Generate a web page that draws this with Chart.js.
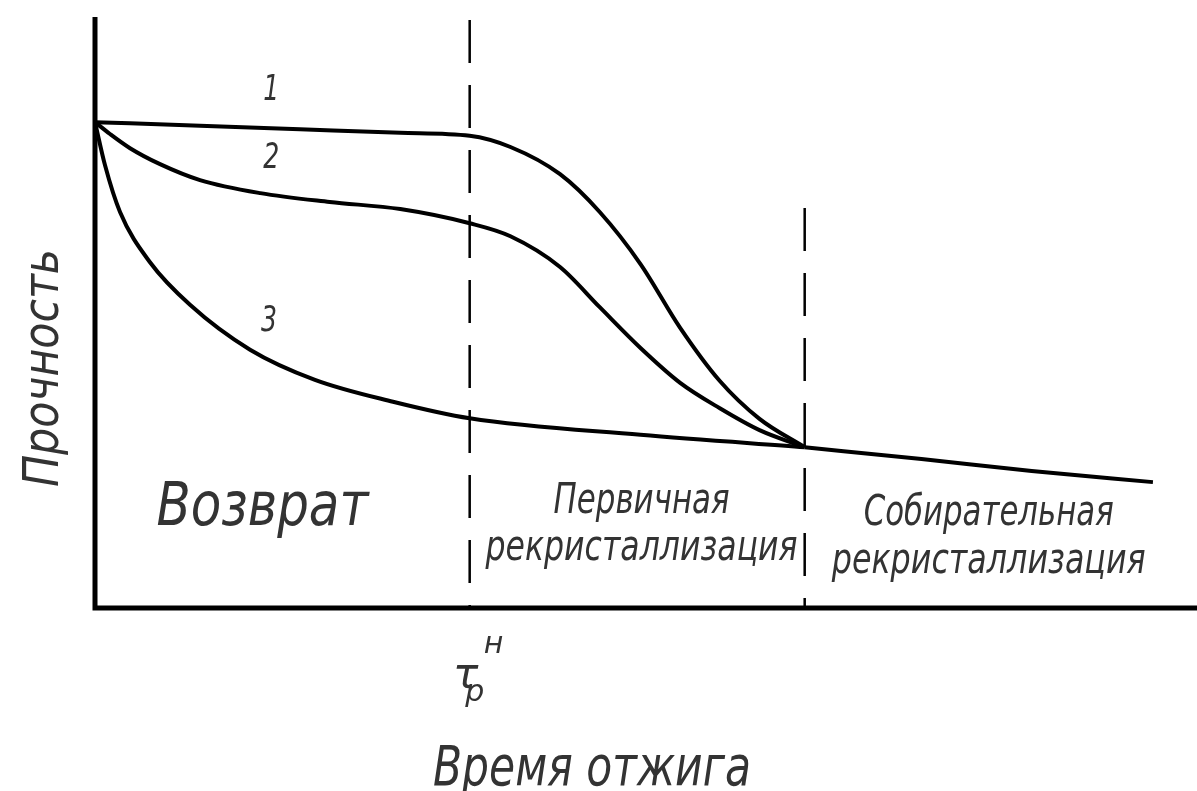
<!DOCTYPE html>
<html lang="ru">
<head>
<meta charset="utf-8">
<title>Прочность — время отжига</title>
<script src="https://cdn.jsdelivr.net/npm/chart.js@4.4.1/dist/chart.umd.min.js"></script>
<style>
  html, body { margin: 0; padding: 0; background: #fff; }
  #wrap { width: 1197px; height: 791px; position: relative; }
</style>
</head>
<body>
<div id="wrap"><canvas id="chart"></canvas></div>
<script>
// Кривая 1: время отжига и прочность
const vremya1 = [0, 9.53, 18.6, 27.7, 34.0, 37.7, 42.2, 45.8, 49.5, 53.1, 56.7, 60.3, 64.4];
const krivaya1 = [82.2, 81.6, 81.0, 80.4, 79.9, 78.0, 73.4, 67.0, 58.2, 47.4, 38.4, 32.0, 27.2];
// Кривая 2
const vremya2 = [0, 1.36, 3.18, 5.9, 9.53, 15.0, 21.3, 27.7, 34.0, 37.7, 42.2, 45.8, 49.5, 53.1, 56.7, 60.3, 64.4];
const krivaya2 = [82.2, 80.2, 77.8, 75.1, 72.4, 70.2, 68.7, 67.5, 65.1, 62.9, 57.7, 50.9, 44.0, 38.1, 33.8, 30.1, 27.2];
// Кривая 3
const vremya3 = [0, 0.91, 2.27, 4.99, 8.62, 14.07, 19.96, 27.04, 34.0, 49.5, 64.4];
const krivaya3 = [82.2, 74.9, 67.0, 58.5, 51.3, 43.7, 38.6, 34.9, 32.1, 29.3, 27.2];
// Общий участок (собирательная рекристаллизация)
const vremyaHvost = [64.4, 75, 85, 96];
const hvost = [27.2, 25.2, 23.2, 21.3];
// Границы стадий: τр^н и конец первичной рекристаллизации
const granicy = [34, 64.4];
const verhGranic = [99.5, 67.7];

// Подписи (в единицах осей)
const nomera = [
    { text: '1', x: 16.0, y: 87.6 },
    { text: '2', x: 16.0, y: 76.1 },
    { text: '3', x: 15.8, y: 48.4 }
];
const stadii = [
    { lines: ['Возврат'], x: 15.2, y: [14.0], size: 60, w: [212] },
    { lines: ['Первичная', 'рекристаллизация'], x: 49.6, y: [16.1, 8.1], size: 42, w: [176, 312] },
    { lines: ['Собирательная', 'рекристаллизация'], x: 81.1, y: [14.0, 5.9], size: 42, w: [250, 314] }
];

const FONT = '"DejaVu Sans", sans-serif';

function toPoints(xs, ys) {
    return xs.map((x, i) => ({ x: x, y: ys[i] }));
}

function curve(data) {
    return {
        data: data,
        borderColor: '#000',
        borderWidth: 4,
        pointRadius: 0,
        fill: false,
        cubicInterpolationMode: 'monotone',
        clip: false
    };
}

function dashed(i) {
    return {
        data: [{ x: granicy[i], y: verhGranic[i] }, { x: granicy[i], y: 0 }],
        borderColor: '#000',
        borderWidth: 2.5,
        borderDash: [43, 22],
        pointRadius: 0,
        fill: false,
        clip: false
    };
}

// Оси, подписи и обозначения рисуем поверх
const podpisi = {
    id: 'podpisi',
    afterDatasetsDraw(chart) {
        const { ctx, chartArea, scales } = chart;
        const sx = scales.x, sy = scales.y;
        ctx.save();

        // оси
        ctx.strokeStyle = '#000';
        ctx.lineWidth = 5;
        ctx.beginPath();
        ctx.moveTo(chartArea.left, chartArea.top);
        ctx.lineTo(chartArea.left, chartArea.bottom);
        ctx.lineTo(chartArea.right, chartArea.bottom);
        ctx.stroke();

        ctx.fillStyle = '#333';
        ctx.textAlign = 'center';
        ctx.textBaseline = 'middle';

        // номера кривых
        ctx.font = 'italic 36px ' + FONT;
        nomera.forEach(n => ctx.fillText(n.text, sx.getPixelForValue(n.x), sy.getPixelForValue(n.y), 16));

        // стадии
        ctx.textBaseline = 'alphabetic';
        stadii.forEach(s => {
            ctx.font = 'italic ' + s.size + 'px ' + FONT;
            s.lines.forEach((line, i) => {
                ctx.fillText(line, sx.getPixelForValue(s.x), sy.getPixelForValue(s.y[i]), s.w[i]);
            });
        });

        // τр^н
        const tx = sx.getPixelForValue(granicy[0]);
        ctx.font = 'italic 42px ' + FONT;
        ctx.fillText('τ', tx - 4, sy.getPixelForValue(-13.5));
        ctx.font = 'italic 30px ' + FONT;
        ctx.fillText('р', tx + 5, sy.getPixelForValue(-15.8));
        ctx.fillText('н', tx + 24, sy.getPixelForValue(-7.6));

        // подпись оси X
        ctx.font = 'italic 56px ' + FONT;
        ctx.fillText('Время отжига', sx.getPixelForValue(45.1), sy.getPixelForValue(-29.9), 318);

        // подпись оси Y
        ctx.translate(sx.getPixelForValue(-3.4), sy.getPixelForValue(40.6));
        ctx.rotate(-Math.PI / 2);
        ctx.font = 'italic 50px ' + FONT;
        ctx.fillText('Прочность', 0, 0, 238);

        ctx.restore();
    }
};

new Chart(document.getElementById('chart'), {
    type: 'line',
    data: {
        datasets: [
            curve(toPoints(vremya1, krivaya1)),
            curve(toPoints(vremya2, krivaya2)),
            curve(toPoints(vremya3, krivaya3)),
            curve(toPoints(vremyaHvost, hvost)),
            dashed(0),
            dashed(1)
        ]
    },
    options: {
        responsive: true,
        maintainAspectRatio: false,
        animation: false,
        layout: { padding: { left: 95, top: 17, right: 0, bottom: 183 } },
        plugins: { legend: { display: false }, tooltip: { enabled: false } },
        scales: {
            x: { type: 'linear', min: 0, max: 100, display: false },
            y: { type: 'linear', min: 0, max: 100, display: false }
        }
    },
    plugins: [podpisi]
});
</script>
</body>
</html>
